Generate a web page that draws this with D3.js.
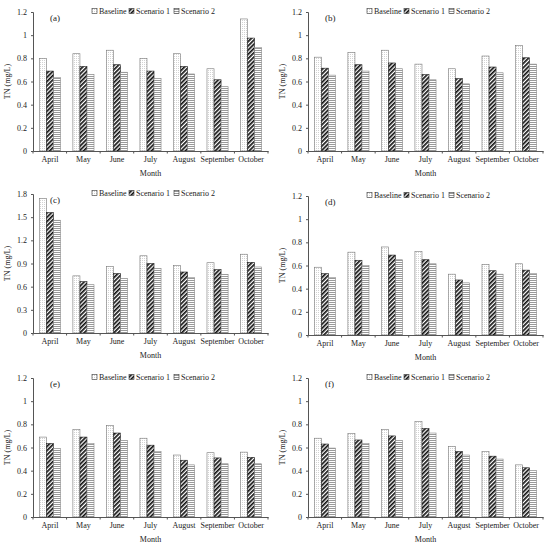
<!DOCTYPE html>
<html>
<head>
<meta charset="utf-8">
<script src="https://cdn.jsdelivr.net/npm/d3@7"></script>
<style>
  body { margin: 0; background: #fff; }
  text { font-family: "Liberation Serif", "Times New Roman", serif; fill: #222; }
</style>
</head>
<body>
<script>
const months = ["April", "May", "June", "July", "August", "September", "October"];
const seriesNames = ["Baseline", "Scenario 1", "Scenario 2"];
const panelLabels = ["(a)", "(b)", "(c)", "(d)", "(e)", "(f)"];

const baselineA = [0.80, 0.84, 0.87, 0.80, 0.84, 0.71, 1.14];
const scenario1A = [0.69, 0.73, 0.745, 0.69, 0.73, 0.615, 0.975];
const scenario2A = [0.635, 0.66, 0.68, 0.625, 0.665, 0.555, 0.895];

const baselineB = [0.81, 0.85, 0.87, 0.75, 0.71, 0.82, 0.91];
const scenario1B = [0.715, 0.745, 0.76, 0.66, 0.625, 0.725, 0.805];
const scenario2B = [0.655, 0.69, 0.71, 0.615, 0.58, 0.675, 0.75];

const baselineC = [1.74, 0.74, 0.86, 1.00, 0.875, 0.91, 1.02];
const scenario1C = [1.56, 0.665, 0.77, 0.90, 0.79, 0.82, 0.915];
const scenario2C = [1.46, 0.625, 0.705, 0.835, 0.72, 0.76, 0.855];

const baselineD = [0.585, 0.715, 0.76, 0.72, 0.525, 0.61, 0.615];
const scenario1D = [0.53, 0.645, 0.69, 0.65, 0.475, 0.555, 0.56];
const scenario2D = [0.495, 0.60, 0.65, 0.615, 0.45, 0.525, 0.53];

const baselineE = [0.69, 0.755, 0.79, 0.68, 0.535, 0.555, 0.56];
const scenario1E = [0.635, 0.69, 0.725, 0.62, 0.49, 0.51, 0.515];
const scenario2E = [0.59, 0.635, 0.66, 0.565, 0.45, 0.46, 0.46];

const baselineF = [0.68, 0.72, 0.755, 0.825, 0.61, 0.565, 0.45];
const scenario1F = [0.63, 0.665, 0.70, 0.765, 0.565, 0.525, 0.425];
const scenario2F = [0.595, 0.635, 0.66, 0.725, 0.535, 0.50, 0.40];

const yTicksDefault = [0, 0.2, 0.4, 0.6, 0.8, 1, 1.2];
const yTicksC = [0, 0.3, 0.6, 0.9, 1.2, 1.5, 1.8];

const panels = [
  { label: panelLabels[0], series: [baselineA, scenario1A, scenario2A], ticks: yTicksDefault },
  { label: panelLabels[1], series: [baselineB, scenario1B, scenario2B], ticks: yTicksDefault },
  { label: panelLabels[2], series: [baselineC, scenario1C, scenario2C], ticks: yTicksC },
  { label: panelLabels[3], series: [baselineD, scenario1D, scenario2D], ticks: yTicksDefault },
  { label: panelLabels[4], series: [baselineE, scenario1E, scenario2E], ticks: yTicksDefault },
  { label: panelLabels[5], series: [baselineF, scenario1F, scenario2F], ticks: yTicksDefault },
];

const svg = d3.select("body").append("svg")
  .attr("width", 550)
  .attr("height", 546);

// fill patterns
const defs = svg.append("defs");
const dots = defs.append("pattern").attr("id", "p0")
  .attr("patternUnits", "userSpaceOnUse").attr("width", 2).attr("height", 2);
dots.append("rect").attr("width", 2).attr("height", 2).attr("fill", "#fff");
dots.append("rect").attr("width", 0.8).attr("height", 0.8).attr("fill", "#bbb");

const diag = defs.append("pattern").attr("id", "p1")
  .attr("patternUnits", "userSpaceOnUse").attr("width", 3).attr("height", 3)
  .attr("patternTransform", "rotate(45)");
diag.append("rect").attr("width", 3).attr("height", 3).attr("fill", "#fff");
diag.append("rect").attr("width", 1.7).attr("height", 3).attr("fill", "#111");

const horiz = defs.append("pattern").attr("id", "p2")
  .attr("patternUnits", "userSpaceOnUse").attr("width", 2).attr("height", 2);
horiz.append("rect").attr("width", 2).attr("height", 2).attr("fill", "#fff");
horiz.append("rect").attr("width", 2).attr("height", 1).attr("fill", "#999");

const fills = ["url(#p0)", "url(#p1)", "url(#p2)"];
const strokes = ["#777", "#222", "#888"];

const tops = [12, 12, 194, 196, 378, 378];
const plotH = 139;

panels.forEach((p, i) => {
  const col = i % 2;
  const ox = col * 275;
  const left = ox + 33, right = ox + 268;
  const top = tops[i], bottom = top + plotH;

  const g = svg.append("g");

  const x = d3.scaleBand().domain(months).range([left, right]).paddingInner(0.37).paddingOuter(0.19);
  const xs = d3.scaleBand().domain(seriesNames).range([0, x.bandwidth()]);
  const y = d3.scaleLinear().domain([0, d3.max(p.ticks)]).range([bottom, top]);

  // bars
  p.series.forEach((vals, s) => {
    g.append("g").selectAll("rect")
      .data(vals)
      .join("rect")
      .attr("x", (d, k) => x(months[k]) + xs(seriesNames[s]))
      .attr("y", d => y(d))
      .attr("width", xs.bandwidth())
      .attr("height", d => y(0) - y(d))
      .attr("fill", fills[s])
      .attr("stroke", strokes[s])
      .attr("stroke-width", 0.6);
  });

  // y axis
  const ya = g.append("g")
    .attr("transform", `translate(${left},0)`)
    .call(d3.axisLeft(y).tickValues(p.ticks).tickSize(2).tickPadding(4)
      .tickFormat(d => d3.format("~g")(+d.toFixed(1))));
  ya.select(".domain").attr("stroke", "#555");
  ya.selectAll(".tick line").attr("stroke", "#555");
  ya.selectAll("text").style("font-size", "8px").attr("fill", "#222");

  // x axis
  const xa = g.append("g")
    .attr("transform", `translate(0,${bottom})`)
    .call(d3.axisBottom(x).tickSize(0).tickPadding(5));
  xa.select(".domain").attr("stroke", "#555");
  xa.selectAll("text").style("font-size", "8px").attr("fill", "#222");
  // ticks between categories
  g.append("g").selectAll("line")
    .data(d3.range(months.length + 1))
    .join("line")
    .attr("x1", k => left + k * (right - left) / months.length)
    .attr("x2", k => left + k * (right - left) / months.length)
    .attr("y1", bottom).attr("y2", bottom + 2.5)
    .attr("stroke", "#555");

  // axis titles
  g.append("text")
    .attr("x", (left + right) / 2).attr("y", bottom + 25)
    .attr("text-anchor", "middle").style("font-size", "8px")
    .text("Month");
  g.append("text")
    .attr("transform", `translate(${ox + 10},${(top + bottom) / 2}) rotate(-90)`)
    .attr("text-anchor", "middle").style("font-size", "8px")
    .text("TN (mg/L)");

  // panel label
  g.append("text")
    .attr("x", left + 17).attr("y", top + 9)
    .style("font-size", "9px")
    .text(p.label);

  // legend
  const lg = g.append("g").attr("transform", `translate(${ox + 92},${top + 1})`);
  const offsets = [0, 37, 82];
  seriesNames.forEach((name, s) => {
    lg.append("rect")
      .attr("x", offsets[s]).attr("y", -4.5)
      .attr("width", 5).attr("height", 5)
      .attr("fill", fills[s]).attr("stroke", "#333").attr("stroke-width", 0.6);
    lg.append("text")
      .attr("x", offsets[s] + 7).attr("y", 0.5)
      .style("font-size", "8px")
      .text(name);
  });
});
</script>
</body>
</html>
